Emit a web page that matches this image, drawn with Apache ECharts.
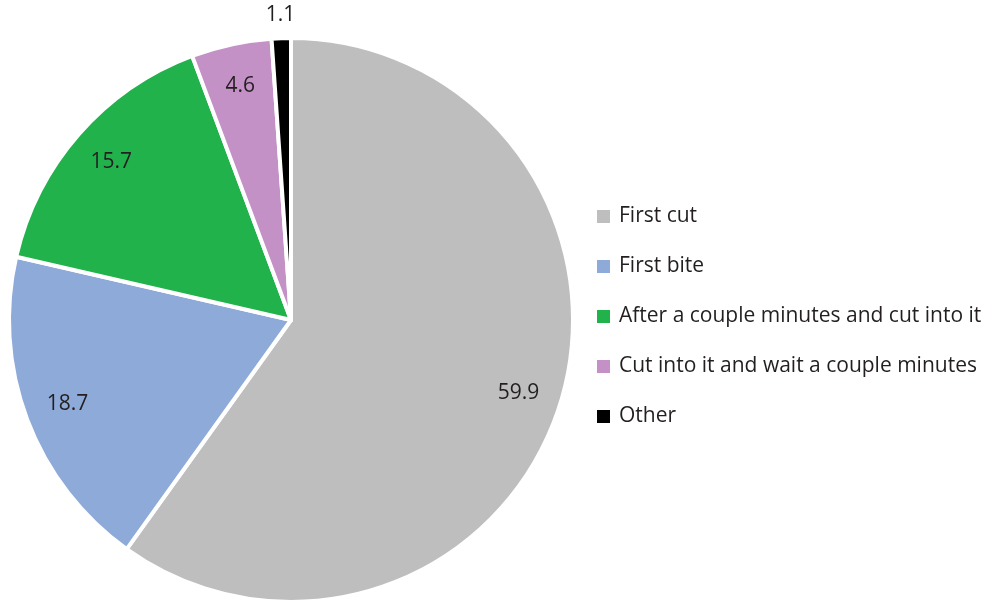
<!DOCTYPE html>
<html>
<head>
<meta charset="utf-8">
<script src="https://cdn.jsdelivr.net/npm/echarts@6/dist/echarts.min.js"></script>
<style>
  html, body { margin: 0; padding: 0; background: #fff; }
  #chart { width: 997px; height: 602px; }
</style>
</head>
<body>
<div id="chart"></div>
<script>
var names = ['First cut', 'First bite', 'After a couple minutes and cut into it', 'Cut into it and wait a couple minutes', 'Other'];
var values = [59.9, 18.7, 15.7, 4.6, 1.1];
var colors = ['#bebebe', '#8eaad9', '#21b24b', '#c391c6', '#000000'];

(function() {
  var myChart = echarts.init(document.getElementById('chart'));
  var font = '"Open Sans", "Noto Sans", sans-serif';

  // label rings: inner labels sit around 0.84 r, the small slice label sits outside
  function ringData(showIdx) {
    return names.map(function(n, i) {
      return {
        name: n,
        value: values[i],
        label: { show: showIdx(i) }
      };
    });
  }

  var option = {
    animation: false,
    legend: {
      orient: 'vertical',
      left: 590,
      top: 201,
      itemWidth: 15,
      itemHeight: 15,
      itemGap: 29,
      icon: 'rect',
      selectedMode: false,
      data: names,
      textStyle: { fontFamily: font, fontSize: 21, color: '#231f20', padding: [0, 0, 0, 3] }
    },
    series: [
      {
        name: 'main',
        type: 'pie',
        center: [291, 320],
        radius: [0, 282],
        startAngle: 90,
        clockwise: true,
        silent: true,
        label: { show: false },
        labelLine: { show: false },
        itemStyle: { borderColor: '#fff', borderWidth: 4 },
        data: names.map(function(n, i) {
          return { name: n, value: values[i], itemStyle: { color: colors[i] } };
        })
      },
      {
        name: 'labels',
        type: 'pie',
        center: [291, 320],
        radius: [0, 472],
        startAngle: 90,
        silent: true,
        legendHoverLink: false,
        itemStyle: { color: 'transparent' },
        label: {
          position: 'inside',
          formatter: function(p) { return p.value.toFixed(1); },
          fontFamily: font, fontSize: 21, color: '#231f20'
        },
        labelLine: { show: false },
        data: ringData(function(i) { return i < 4; })
      },
      {
        name: 'labelsOuter',
        type: 'pie',
        center: [291, 320],
        radius: [0, 604],
        startAngle: 90,
        silent: true,
        legendHoverLink: false,
        itemStyle: { color: 'transparent' },
        label: {
          position: 'inside',
          formatter: function(p) { return p.value.toFixed(1); },
          fontFamily: font, fontSize: 21, color: '#231f20'
        },
        labelLine: { show: false },
        data: ringData(function(i) { return i === 4; })
      }
    ]
  };
  myChart.setOption(option);
})();
</script>
</body>
</html>
